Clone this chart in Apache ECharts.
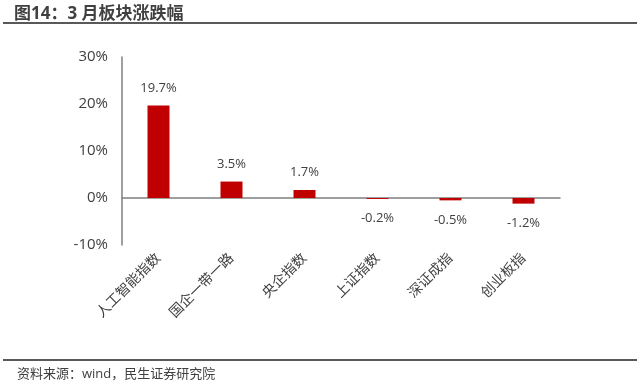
<!DOCTYPE html>
<html><head><meta charset="utf-8">
<script src="https://cdn.jsdelivr.net/npm/echarts@6/dist/echarts.min.js"></script>
<style>html,body{margin:0;padding:0;background:#fff}#c{width:640px;height:382px}</style>
</head><body><div id="c"></div>
<script>
const categories = ['人工智能指数','国企一带一路','央企指数','上证指数','深证成指','创业板指'];
const values = [19.7, 3.5, 1.7, -0.2, -0.5, -1.2];
const yTicks = [-10, 0, 10, 20, 30];
const titleText = '图14：3 月板块涨跌幅';
const sourceText = '资料来源：wind，民生证券研究院';
const FONT = '"Open Sans","Noto Sans CJK SC",sans-serif';
const chart = echarts.init(document.getElementById('c'));
chart.setOption({
  animation:false,
  textStyle:{fontFamily:FONT},
  title:[
    {text:titleText,left:9,top:1,textStyle:{fontSize:17,fontWeight:'bold',color:'#404040',fontFamily:FONT}},
    {text:sourceText,left:12,top:363,textStyle:{fontSize:13,fontWeight:'normal',color:'#404040',fontFamily:FONT}}
  ],
  graphic:[
    {type:'line',shape:{x1:3,y1:23,x2:637,y2:23},style:{stroke:'#595959',lineWidth:2}},
    {type:'line',shape:{x1:3,y1:360,x2:637,y2:360},style:{stroke:'#595959',lineWidth:2}}
  ],
  grid:{left:122,right:80,top:57,bottom:137},
  xAxis:{type:'category',data:categories,
    axisLine:{lineStyle:{color:'#7f7f7f',width:1.5}},
    axisTick:{show:false},
    axisLabel:{rotate:45,interval:0,fontSize:14,color:'#404040',margin:11}},
  yAxis:{type:'value',min:yTicks[0],max:yTicks[yTicks.length-1],interval:10,
    axisLine:{show:true,lineStyle:{color:'#7f7f7f',width:1.5}},
    axisTick:{show:false},splitLine:{show:false},
    axisLabel:{formatter:'{value}%',fontSize:15,color:'#404040',margin:14}},
  series:[{type:'bar',barWidth:22,itemStyle:{color:'#C00000'},
    data:values.map(v=>({value:v,label:{position:v<0?'bottom':'top',distance:v<0?13:11}})),
    label:{show:true,formatter:p=>p.value.toFixed(1)+'%',fontSize:13,color:'#404040'}
  }]
});
</script></body></html>
